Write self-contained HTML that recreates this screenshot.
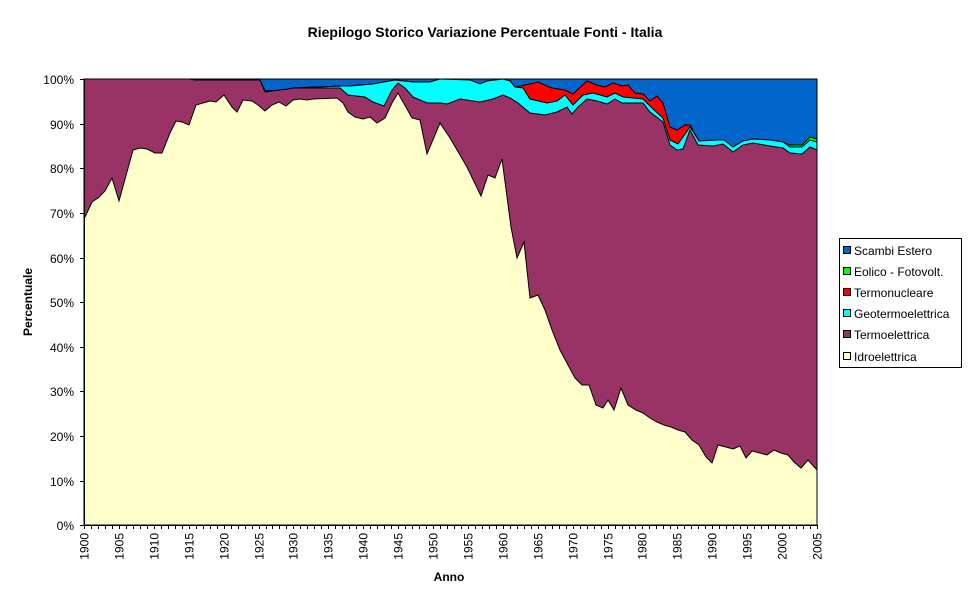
<!DOCTYPE html>
<html><head><meta charset="utf-8"><style>
body{margin:0;background:#fff}
svg text{font-family:"Liberation Sans",Arial,sans-serif}
</style></head><body>
<svg width="970" height="604" viewBox="0 0 970 604" xmlns="http://www.w3.org/2000/svg">
<rect width="970" height="604" fill="#fff"/>
<text x="485" y="37" font-size="14" font-weight="bold" text-anchor="middle">Riepilogo Storico Variazione Percentuale Fonti - Italia</text>
<g stroke="#000" stroke-width="1">
<rect x="84" y="79" width="733" height="446" fill="#0066CC"/>
<polygon fill="#00FF00" points="84,79 190,79 195,81 260,81 265,91 287,90 293,88 343,86 350,86 373,84 395,80 413,82 430,82 440,79 470,80 480,84 487,81 503,79 510,81 515,87 523,88 530,99 547,103 557,101 565,95 573,105 583,95 593,93 607,97 615,93 623,97 643,99 652,108 663,118 670,140 678,144 690,127 699,141 717,140 724,140 733,147 743,141 753,139 770,140 783,142 790,145 802,145 810,137 817,139 817,525 84,525"/>
<polygon fill="#FF0000" points="84,79 190,79 195,81 260,81 265,91 287,90 293,88 343,86 350,86 373,84 395,80 413,82 430,82 440,79 470,80 480,84 487,81 503,79 510,81 515,87 520,86 530,84 538,82 547,86 552,88 565,90 573,94 587,81 597,85 605,87 613,83 622,86 628,85 635,93 643,94 650,101 657,96 663,103 670,127 677,130 685,125 690,125 699,141 717,140 724,140 733,147 743,141 753,139 770,140 783,142 790,147 802,147 810,140 817,142 817,525 84,525"/>
<polygon fill="#00FFFF" points="84,79 190,79 195,81 260,81 265,91 287,90 293,88 343,86 350,86 373,84 395,80 413,82 430,82 440,79 470,80 480,84 487,81 503,79 510,81 515,87 523,88 530,99 547,103 557,101 565,95 573,105 583,95 593,93 607,97 615,93 623,97 643,99 652,108 663,118 670,140 678,144 690,127 699,141 717,140 724,140 733,147 743,141 753,139 770,140 783,142 790,147 802,147 810,140 817,142 817,525 84,525"/>
<polygon fill="#993366" points="84,79 190,79 195,80 260,80 265,92 272,91 288,89 293,88 340,88 348,95 365,97 373,102 384,106 392,90 398,83 405,88 413,97 427,103 440,103 447,104 460,99 480,102 493,99 503,95 510,98 518,103 530,113 545,115 557,112 567,107 572,114 578,107 587,99 597,101 607,104 615,99 622,103 643,103 650,112 663,122 670,145 677,150 683,149 690,130 698,145 713,146 723,144 733,152 743,145 753,143 770,146 783,148 790,153 802,154 810,147 817,150 817,525 84,525"/>
<polygon fill="#FFFFCC" points="84,217 85,217 92,202 98,198 105,191 112,178 119,201 133,150 140,148 147,149 155,153 162,153 170,133 176,121 182,122 189,125 196,105 203,103 210,101 216,102 224,95 232,107 237,112 243,100 252,101 258,105 265,111 272,105 279,102 286,106 293,100 300,99 307,100 313,99 337,98 343,103 348,112 355,117 363,119 370,117 377,123 385,118 392,103 398,93 412,118 420,120 427,154 440,123 450,138 467,167 481,196 488,175 495,178 502,159 511,227 517,258 524,242 530,298 538,295 545,310 552,330 560,350 568,365 575,378 582,385 589,385 596,405 603,408 608,400 614,410 621,388 628,405 636,410 643,413 650,418 657,422 664,425 671,427 678,430 685,432 692,440 699,445 706,457 712,463 718,445 726,447 733,449 740,446 746,458 752,451 760,453 767,455 774,450 781,453 788,455 794,462 801,468 808,460 817,470 817,525 84,525"/>
</g>
<g stroke="#000" stroke-width="1" fill="none">
<line x1="84.5" y1="79" x2="84.5" y2="525"/>
<line x1="84" y1="525.5" x2="817" y2="525.5"/>
<line x1="80" y1="79.5" x2="84" y2="79.5"/><line x1="80" y1="124.5" x2="84" y2="124.5"/><line x1="80" y1="168.5" x2="84" y2="168.5"/><line x1="80" y1="213.5" x2="84" y2="213.5"/><line x1="80" y1="258.5" x2="84" y2="258.5"/><line x1="80" y1="302.5" x2="84" y2="302.5"/><line x1="80" y1="347.5" x2="84" y2="347.5"/><line x1="80" y1="391.5" x2="84" y2="391.5"/><line x1="80" y1="436.5" x2="84" y2="436.5"/><line x1="80" y1="481.5" x2="84" y2="481.5"/><line x1="80" y1="525.5" x2="84" y2="525.5"/>
</g>
<g id="xt" stroke="#000" stroke-width="1"></g>
<g font-size="12" text-anchor="end">
<text x="74" y="84">100%</text><text x="74" y="129">90%</text><text x="74" y="173">80%</text><text x="74" y="218">70%</text><text x="74" y="263">60%</text><text x="74" y="307">50%</text><text x="74" y="352">40%</text><text x="74" y="396">30%</text><text x="74" y="441">20%</text><text x="74" y="486">10%</text><text x="74" y="530">0%</text>
</g>
<g id="xl" font-size="12" text-anchor="end"></g>
<text x="449" y="581" font-size="12" font-weight="bold" text-anchor="middle">Anno</text>
<text transform="translate(32,302) rotate(-90)" font-size="12" font-weight="bold" text-anchor="middle">Percentuale</text>
<rect x="839.5" y="238.5" width="122" height="129" fill="#fff" stroke="#000"/>
<g stroke="#000" stroke-width="1">
<rect x="843.5" y="246.5" width="7" height="7" fill="#0066CC"/>
<rect x="843.5" y="267.5" width="7" height="7" fill="#00FF00"/>
<rect x="843.5" y="288.5" width="7" height="7" fill="#FF0000"/>
<rect x="843.5" y="309.5" width="7" height="7" fill="#00FFFF"/>
<rect x="843.5" y="330.5" width="7" height="7" fill="#993366"/>
<rect x="843.5" y="352.5" width="7" height="7" fill="#FFFFCC"/>
</g>
<g font-size="12">
<text x="854" y="255">Scambi Estero</text>
<text x="854" y="276">Eolico - Fotovolt.</text>
<text x="854" y="297">Termonucleare</text>
<text x="854" y="318">Geotermoelettrica</text>
<text x="854" y="339">Termoelettrica</text>
<text x="854" y="361">Idroelettrica</text>
</g>
<script>
var ns="http://www.w3.org/2000/svg",t=document.getElementById("xt"),l=document.getElementById("xl");
for(var i=0;i<=105;i++){var x=Math.round(84+i*733/105)+0.5;var ln=document.createElementNS(ns,"line");ln.setAttribute("x1",x);ln.setAttribute("x2",x);ln.setAttribute("y1",525);ln.setAttribute("y2",529);t.appendChild(ln);
if(i%5==0){var tx=document.createElementNS(ns,"text");tx.setAttribute("transform","translate("+(x+4)+",533) rotate(-90)");tx.textContent=1900+i;l.appendChild(tx);}}
</script>
</svg>
</body></html>
